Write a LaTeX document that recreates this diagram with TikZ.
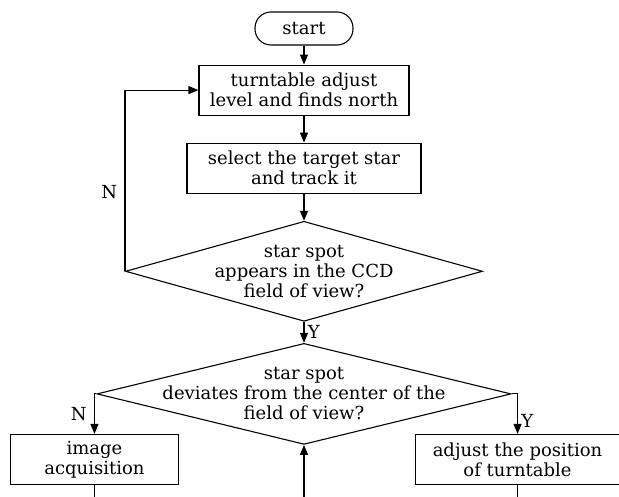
\documentclass[tikz,border=0pt]{standalone}
\usepackage{fontspec}
\setmainfont{DejaVu Serif}
\usetikzlibrary{shapes.geometric, arrows.meta, positioning}
\tikzstyle{terminal} = [
	rectangle,
	rounded corners=16pt,
	minimum width=98pt,
	minimum height=33pt,
	text centered,
	draw=black,
]
\tikzstyle{process} = [
	rectangle,
	minimum height=50pt,
	align=center,
	draw=black,
]
\tikzstyle{decision} = [
	diamond,
	minimum height=100pt,
	draw=black,
]
\tikzstyle{arrow} = [line width=1.1pt,-{Triangle[length=10pt,width=8pt]}]
\tikzstyle{line} = [line width=1.1pt]

\begin{document}
\begin{tikzpicture}[font=\fontsize{18pt}{20pt}\selectfont, line width=1.1pt]
		\useasboundingbox[fill=white] (0,0) rectangle (619pt,-497pt);
		\node (start) [terminal] at (304pt,-28.5pt) {start};
		\node (setup) [process, minimum width=210pt, below=19pt of start] {turntable adjust\\level and finds north};
		\node (track) [process, minimum width=234pt, below=27pt of setup] {select the target star\\and track it};
		\node (seen) [decision, minimum width=357pt, below=27pt of track] {};
		\node (seentext) [align=center] at (seen) {star spot\\appears in the CCD\\field of view?};
		\node (deviate) [decision, minimum width=414pt, minimum height=101pt, below=21pt of seen] {};
		\node (deviatetext) [align=center] at (deviate) {star spot\\deviates from the center of the\\field of view?};
		\node (acquire) [process, minimum width=168pt, below=40pt of deviate.west, xshift=-2pt] {image\\acquisition};
		\node (adjust) [process, minimum width=204pt, below=40pt of deviate.east, xshift=6pt] {adjust the position\\of turntable};
		\coordinate (bottom) at (0,-497pt);
		\coordinate (acquireout) at (acquire.south |- bottom);
		\coordinate (adjustout) at (adjust.south |- bottom);
		\coordinate (backin) at (deviate.south |- bottom);

		\draw [arrow] (start) -- (setup);
		\draw [arrow] (setup) -- (track);
		\draw [arrow] (track) -- (seen);
		\draw [arrow] (seen) -- node[right] {Y} (deviate);
		\draw [arrow] (seen.west) |- node[pos=0.22, left=4pt] {N} (setup.west);
		\draw [arrow] (deviate.west) -| node[pos=0.75, left=4pt] {N} (acquire.north);
		\draw [arrow] (deviate.east) -| node[pos=0.84, right] {Y} (adjust.north);
		\draw [line] (acquire) -- (acquireout);
		\draw [line] (adjust) -- (adjustout);
		\draw [arrow] (backin) -- (deviate);
	\end{tikzpicture}
\end{document}
